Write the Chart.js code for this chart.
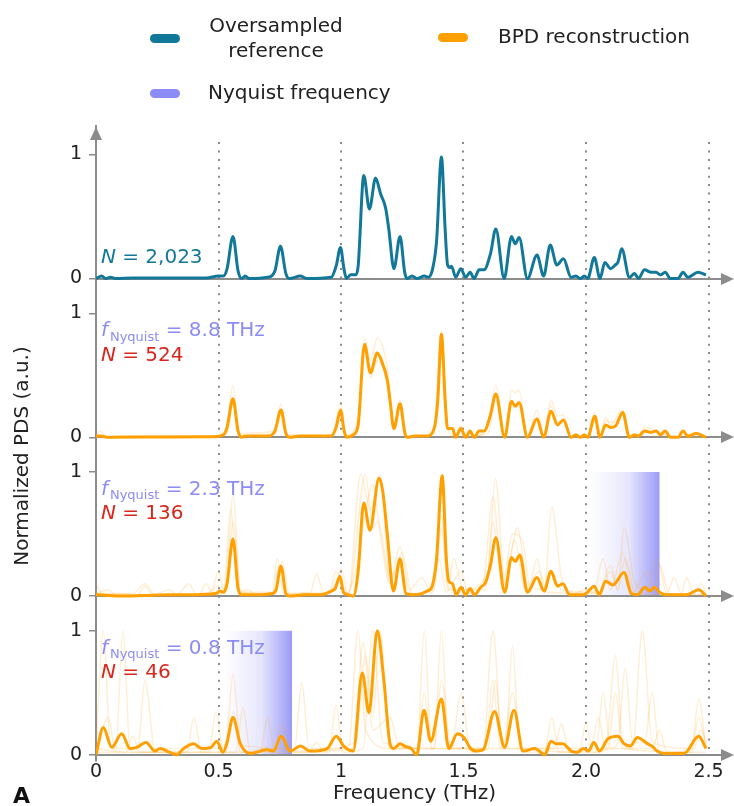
<!DOCTYPE html>
<html>
<head>
<meta charset="utf-8">
<script src="https://cdn.jsdelivr.net/npm/chart.js@4.4.1/dist/chart.umd.min.js"></script>
<style>
  html, body { margin: 0; padding: 0; background: #fff; }
  #wrap { position: relative; width: 734px; height: 806px; font-family: 'DejaVu Sans', sans-serif; color: #222; }
  #wrap canvas { position: absolute; left: 0; top: 0; }
  .sw { position: absolute; width: 30px; height: 9px; border-radius: 5px; }
  .lg { position: absolute; font-size: 20px; line-height: 25px; white-space: nowrap; }
</style>
</head>
<body>
<div id="wrap">
  <canvas id="pds" width="734" height="806"></canvas>
  <div class="sw" style="left:150px; top:34px; background:#12789a;"></div>
  <div class="lg" style="left:206px; top:13px; text-align:center; width:140px;">Oversampled<br>reference</div>
  <div class="sw" style="left:438px; top:33px; background:#ffa000;"></div>
  <div class="lg" style="left:498px; top:24px;">BPD reconstruction</div>
  <div class="sw" style="left:150px; top:89px; background:#8c8cf8;"></div>
  <div class="lg" style="left:208px; top:80px;">Nyquist frequency</div>
</div>
<script>
// ─── Axis ticks ───
const freqTicks  = [0, 0.5, 1, 1.5, 2, 2.5];
const freqLabels = ['0', '0.5', '1', '1.5', '2.0', '2.5'];
const yTicks = [0, 1];
const guideTicks = [0.5, 1, 1.5, 2, 2.5];

// ─── Panel annotations (top to bottom) ───
const sampleN    = ['2,023', '524', '136', '46'];
const nyquistTHz = [null, 8.8, 2.3, 0.8];

// ─── Spectra: [THz, normalized PDS] ───
const refPDS = [[0,0],[0.023,0.02],[0.04,0],[0.06,0.01],[0.08,0],[0.15,0.005],[0.3,0.005],[0.45,0.005],[0.5,0.02],[0.52,0.02],[0.535,0.08],[0.559,0.34],[0.58,0.06],[0.595,0],[0.609,0.02],[0.625,0],[0.7,0.01],[0.73,0.06],[0.753,0.26],[0.775,0.04],[0.79,0],[0.834,0.02],[0.86,0],[0.96,0.01],[0.98,0.1],[0.998,0.25],[1.012,0.08],[1.022,0],[1.04,0.03],[1.06,0.03],[1.07,0.1],[1.093,0.83],[1.116,0.56],[1.141,0.81],[1.162,0.68],[1.182,0.57],[1.195,0.4],[1.216,0.08],[1.241,0.34],[1.26,0.05],[1.27,0],[1.29,0.02],[1.31,0],[1.34,0.02],[1.355,0.01],[1.373,0.07],[1.39,0.3],[1.41,0.98],[1.425,0.4],[1.435,0.11],[1.445,0.09],[1.451,0.1],[1.468,0.01],[1.489,0.08],[1.509,0.01],[1.527,0.05],[1.543,0],[1.564,0.07],[1.584,0.07],[1.61,0.2],[1.632,0.4],[1.666,0],[1.696,0.34],[1.711,0.28],[1.727,0.33],[1.761,0],[1.8,0.19],[1.827,0.02],[1.854,0.27],[1.881,0.11],[1.908,0.16],[1.939,0.01],[1.959,0.02],[1.977,0],[1.993,0.02],[2.007,0],[2.034,0.17],[2.057,0],[2.077,0.13],[2.1,0.08],[2.12,0.11],[2.13,0.13],[2.146,0.24],[2.177,0.01],[2.198,0.04],[2.214,0],[2.239,0.07],[2.266,0.05],[2.286,0.05],[2.304,0.03],[2.323,0.05],[2.345,0],[2.375,0],[2.396,0.05],[2.416,0.01],[2.457,0.05],[2.49,0.03]];

const bpd524 = [[0,0.01],[0.02,0.01],[0.05,0],[0.3,0.003],[0.48,0.005],[0.52,0.02],[0.535,0.08],[0.559,0.31],[0.58,0.05],[0.595,0],[0.61,0.01],[0.7,0.01],[0.73,0.05],[0.755,0.22],[0.775,0.03],[0.79,0],[0.83,0.01],[0.96,0.01],[0.98,0.08],[0.998,0.22],[1.012,0.06],[1.022,0],[1.05,0.02],[1.07,0.1],[1.096,0.75],[1.12,0.52],[1.148,0.68],[1.165,0.62],[1.189,0.46],[1.2,0.3],[1.216,0.07],[1.241,0.27],[1.26,0.04],[1.27,0],[1.3,0.01],[1.35,0.01],[1.38,0.07],[1.395,0.3],[1.41,0.83],[1.425,0.3],[1.435,0.07],[1.455,0.07],[1.468,0],[1.489,0.07],[1.509,0],[1.527,0.05],[1.543,0],[1.564,0.05],[1.584,0.05],[1.61,0.18],[1.632,0.35],[1.668,0],[1.696,0.29],[1.711,0.25],[1.727,0.28],[1.761,0],[1.8,0.15],[1.827,0],[1.857,0.21],[1.884,0.1],[1.908,0.14],[1.939,0],[1.959,0.02],[1.977,0],[1.993,0.02],[2.007,0],[2.036,0.17],[2.057,0],[2.08,0.1],[2.1,0.08],[2.12,0.09],[2.15,0.2],[2.177,0],[2.198,0.02],[2.214,0.01],[2.239,0.05],[2.266,0.04],[2.286,0.05],[2.304,0.02],[2.323,0.05],[2.345,0],[2.375,0],[2.396,0.05],[2.416,0.01],[2.45,0.03],[2.49,0]];

const bpd136 = [[0,0.01],[0.05,0.005],[0.1,0],[0.2,0.005],[0.3,0.01],[0.4,0.01],[0.45,0.015],[0.49,0.02],[0.505,0.04],[0.52,0.03],[0.535,0.1],[0.559,0.46],[0.58,0.06],[0.595,0.01],[0.65,0.01],[0.72,0.02],[0.735,0.05],[0.755,0.24],[0.775,0.02],[0.79,0],[0.85,0.01],[0.92,0.01],[0.96,0.04],[0.976,0.06],[0.996,0.16],[1.01,0.03],[1.03,0.01],[1.05,0],[1.07,0.2],[1.093,0.75],[1.118,0.53],[1.155,0.95],[1.17,0.85],[1.189,0.5],[1.214,0.04],[1.241,0.3],[1.265,0.02],[1.3,0.01],[1.33,0.02],[1.35,0.04],[1.37,0.07],[1.39,0.3],[1.413,0.97],[1.43,0.3],[1.44,0.12],[1.455,0.1],[1.47,0.01],[1.49,0.07],[1.508,0.01],[1.527,0.06],[1.545,0.01],[1.57,0.07],[1.59,0.11],[1.61,0.25],[1.632,0.47],[1.668,0.03],[1.696,0.31],[1.711,0.28],[1.73,0.33],[1.761,0.03],[1.8,0.15],[1.829,0.04],[1.857,0.2],[1.883,0.08],[1.906,0.1],[1.933,0.01],[1.97,0.01],[1.99,0.01],[2.034,0.08],[2.054,0.01],[2.08,0.12],[2.11,0.09],[2.155,0.19],[2.185,0.02],[2.21,0.01],[2.24,0.07],[2.26,0.04],[2.28,0.07],[2.3,0.03],[2.33,0.01],[2.38,0.01],[2.41,0.01],[2.46,0.05],[2.49,0]];

const bpd46 = [[0,0],[0.03,0.22],[0.064,0.06],[0.105,0.17],[0.139,0.05],[0.166,0.06],[0.204,0.1],[0.241,0.03],[0.261,0.05],[0.302,0.02],[0.33,0],[0.357,0.05],[0.398,0.09],[0.432,0.05],[0.47,0.06],[0.493,0.11],[0.518,0.02],[0.535,0.1],[0.559,0.3],[0.589,0.09],[0.63,0.01],[0.698,0.04],[0.725,0.03],[0.755,0.15],[0.793,0.03],[0.834,0.07],[0.875,0.03],[0.943,0.05],[0.981,0.15],[1.011,0.07],[1.05,0.03],[1.087,0.66],[1.114,0.34],[1.148,1],[1.175,0.6],[1.2,0.09],[1.215,0.05],[1.241,0.09],[1.26,0.07],[1.287,0.05],[1.309,0],[1.339,0.36],[1.366,0.11],[1.41,0.45],[1.44,0.05],[1.475,0.17],[1.502,0.14],[1.529,0.05],[1.555,0.03],[1.58,0.04],[1.627,0.35],[1.668,0.06],[1.706,0.36],[1.743,0.03],[1.791,0.05],[1.832,0],[1.857,0.11],[1.878,0.09],[1.905,0.09],[1.94,0.03],[1.965,0.02],[1.989,0.05],[2.01,0.03],[2.032,0.1],[2.055,0.03],[2.09,0.13],[2.13,0.15],[2.155,0.09],[2.18,0.07],[2.21,0.14],[2.25,0.09],[2.27,0.07],[2.29,0.03],[2.32,0.01],[2.4,0.01],[2.46,0.15],[2.49,0.05]];

// individual (faint) reconstructions
const ghost524a = [[0,0.03],[0.02,0.05],[0.04,0],[0.1,0.01],[0.5,0.01],[0.535,0.1],[0.559,0.42],[0.585,0.03],[0.73,0.05],[0.755,0.27],[0.78,0.02],[0.95,0.01],[0.975,0.08],[0.998,0.28],[1.02,0.02],[1.07,0.15],[1.096,0.8],[1.12,0.62],[1.148,0.8],[1.19,0.55],[1.216,0.09],[1.241,0.3],[1.27,0],[1.36,0.01],[1.38,0.07],[1.41,0.86],[1.435,0.08],[1.465,0.01],[1.489,0.1],[1.509,0],[1.58,0.03],[1.61,0.2],[1.632,0.42],[1.668,0],[1.696,0.38],[1.711,0.36],[1.727,0.38],[1.761,0],[1.8,0.22],[1.827,0],[1.857,0.3],[1.884,0.17],[1.908,0.18],[1.939,0],[2.01,0.01],[2.036,0.2],[2.057,0],[2.08,0.16],[2.1,0.1],[2.15,0.22],[2.177,0],[2.215,0.01],[2.239,0.08],[2.286,0.06],[2.345,0],[2.49,0]];
const ghost524b = [[0,0],[0.5,0.01],[0.535,0.03],[0.559,0.27],[0.59,0],[0.73,0.02],[0.755,0.18],[0.785,0],[0.97,0.02],[0.998,0.15],[1.025,0],[1.065,0.05],[1.096,0.7],[1.12,0.48],[1.148,0.62],[1.19,0.42],[1.216,0.05],[1.241,0.25],[1.27,0],[1.38,0.03],[1.41,0.8],[1.44,0],[1.6,0.03],[1.632,0.3],[1.668,0],[1.696,0.26],[1.727,0.25],[1.761,0],[1.8,0.12],[1.827,0],[1.857,0.25],[1.884,0.12],[1.908,0.13],[1.939,0],[2.01,0.01],[2.036,0.13],[2.057,0],[2.08,0.13],[2.12,0.12],[2.15,0.18],[2.177,0],[2.225,0.01],[2.25,0.05],[2.28,0.01],[2.49,0]];

const ghost136a = [[0,0.1],[0.03,0.01],[0.1,0.02],[0.17,0.01],[0.2,0.08],[0.23,0.01],[0.3,0.05],[0.33,0.01],[0.38,0.1],[0.41,0.01],[0.47,0.02],[0.5,0.2],[0.525,0.02],[0.56,0.82],[0.59,0.04],[0.62,0.05],[0.65,0.01],[0.72,0.03],[0.74,0.3],[0.765,0.02],[0.875,0.03],[0.9,0.18],[0.93,0.02],[0.975,0.05],[1,0.22],[1.03,0.01],[1.08,0.98],[1.12,0.7],[1.16,0.98],[1.2,0.1],[1.24,0.4],[1.28,0.05],[1.33,0.15],[1.37,0.02],[1.41,0.65],[1.435,0.05],[1.46,0.3],[1.5,0.05],[1.6,0.2],[1.63,0.95],[1.67,0.1],[1.72,0.55],[1.76,0.1],[1.83,0.05],[1.86,0.72],[1.9,0.15],[1.95,0.02],[2,0.05],[2.05,0.02],[2.1,0.25],[2.13,0.05],[2.155,0.55],[2.2,0.1],[2.25,0.05],[2.29,0.3],[2.33,0.02],[2.36,0.15],[2.39,0.02],[2.41,0.15],[2.44,0.02],[2.47,0.1],[2.49,0.02]];
const ghost136b = [[0,0.02],[0.15,0.02],[0.2,0.1],[0.24,0.01],[0.45,0.02],[0.5,0.08],[0.53,0.05],[0.56,0.6],[0.59,0.03],[0.72,0.02],[0.75,0.25],[0.78,0.02],[0.95,0.03],[0.99,0.12],[1.03,0.02],[1.1,0.98],[1.13,0.55],[1.15,0.6],[1.2,0.15],[1.24,0.25],[1.28,0.02],[1.37,0.05],[1.4,0.3],[1.43,0.03],[1.49,0.2],[1.52,0.02],[1.58,0.1],[1.62,0.8],[1.66,0.1],[1.7,0.5],[1.74,0.45],[1.77,0.1],[1.8,0.3],[1.83,0.03],[1.86,0.2],[1.9,0.05],[2.03,0.03],[2.07,0.3],[2.1,0.05],[2.15,0.35],[2.19,0.03],[2.25,0.2],[2.28,0.05],[2.3,0.25],[2.34,0.02],[2.49,0.01]];
const ghost136c = [[0,0.02],[0.05,0.05],[0.08,0.01],[0.42,0.01],[0.45,0.1],[0.48,0.01],[0.52,0.03],[0.55,0.7],[0.58,0.03],[0.73,0.03],[0.76,0.28],[0.79,0.01],[0.95,0.02],[0.98,0.2],[1.02,0.02],[1.06,0.2],[1.09,0.55],[1.13,0.9],[1.16,0.5],[1.2,0.1],[1.25,0.35],[1.29,0.02],[1.38,0.05],[1.41,0.55],[1.44,0.05],[1.59,0.05],[1.62,0.6],[1.66,0.05],[1.71,0.45],[1.75,0.05],[1.81,0.2],[1.84,0.03],[2.05,0.02],[2.1,0.2],[2.13,0.05],[2.16,0.3],[2.2,0.02],[2.49,0.01]];

const ghost46a = [[0,0.05],[0.03,1],[0.06,0.05],[0.17,0.05],[0.2,0.6],[0.24,0.05],[0.5,0.05],[0.53,0.1],[0.56,0.65],[0.59,0.08],[0.81,0.05],[0.84,0.58],[0.87,0.05],[1.03,0.05],[1.07,1],[1.1,0.2],[1.2,0.05],[1.31,0.05],[1.34,1],[1.37,0.05],[1.58,0.05],[1.62,1],[1.66,0.05],[2.08,0.05],[2.12,0.8],[2.15,0.1],[2.19,0.05],[2.23,1],[2.27,0.1],[2.43,0.05],[2.46,0.45],[2.49,0.05]];
const ghost46b = [[0,0.02],[0.08,0.02],[0.11,1],[0.14,0.02],[0.37,0.02],[0.4,0.3],[0.43,0.02],[0.57,0.02],[0.6,0.38],[0.63,0.02],[0.95,0.02],[0.98,0.4],[1.01,0.02],[1.09,0.05],[1.13,1],[1.17,0.1],[1.38,0.05],[1.41,1],[1.44,0.05],[1.67,0.05],[1.7,0.88],[1.73,0.05],[2.04,0.02],[2.07,0.5],[2.1,0.05],[2.13,0.1],[2.16,0.7],[2.19,0.1],[2.24,0.1],[2.27,0.5],[2.3,0.02],[2.49,0.02]];
const ghost46c = [[0,0.02],[0.05,0.3],[0.08,0.02],[0.46,0.02],[0.49,0.35],[0.52,0.02],[0.67,0.02],[0.7,0.3],[0.73,0.03],[0.76,0.25],[0.79,0.02],[1.06,0.1],[1.1,0.8],[1.13,0.3],[1.16,1],[1.2,0.05],[1.38,0.05],[1.41,0.6],[1.45,0.05],[1.49,0.5],[1.53,0.02],[1.6,0.05],[1.63,0.6],[1.66,0.05],[1.7,0.5],[1.74,0.02],[1.83,0.02],[1.86,0.3],[1.89,0.02],[1.97,0.02],[2,0.25],[2.03,0.02],[2.09,0.05],[2.12,0.5],[2.15,0.05],[2.43,0.02],[2.46,0.3],[2.49,0.05]];
const ghost46d = [[0,0.05],[0.12,0.02],[0.15,0.15],[0.18,0.02],[0.53,0.02],[0.56,0.35],[0.59,0.02],[0.7,0.05],[0.87,0.03],[0.9,0.1],[0.93,0.03],[1.05,0.05],[1.09,0.9],[1.13,0.2],[1.2,0.3],[1.24,0.05],[1.31,0.05],[1.34,0.5],[1.37,0.05],[1.59,0.05],[1.62,0.6],[1.65,0.05],[1.87,0.05],[1.9,0.25],[1.93,0.02],[2.02,0.05],[2.05,0.3],[2.08,0.05],[2.27,0.05],[2.3,0.2],[2.33,0.02],[2.44,0.05],[2.47,0.2],[2.49,0.1]];

// ─── Colours ───
const C = {
    ref:     '#12789a',
    bpd:     '#ffa000',
    ghost:   'rgba(255, 170, 40, 0.2)',
    nyquist: '#8c8cf8',
    count:   '#d9261c',
    axis:    '#8c8c8c',
    text:    '#222',
};
const FONT = "'DejaVu Sans', sans-serif";
Chart.defaults.font.family = FONT;

const panelIds = ['y0', 'y1', 'y2', 'y3'];

function mainLine(data, color, yAxisID) {
    return { data, yAxisID, borderColor: color, borderWidth: 3, pointRadius: 0,
             cubicInterpolationMode: 'monotone', order: 0 };
}
function ghostLine(data, yAxisID) {
    return { data, yAxisID, borderColor: C.ghost, borderWidth: 1.5, pointRadius: 0,
             cubicInterpolationMode: 'monotone', order: 1 };
}

function panelScale(weight) {
    return {
        type: 'linear', position: 'left', stack: 'panels', weight,
        min: -0.05, max: 1.23,
        afterBuildTicks: s => { s.ticks = yTicks.map(v => ({ value: v })); },
        afterFit: s => { s.width = 96; },
        ticks: { font: { size: 19 }, color: C.text, padding: 7 },
        grid: { drawOnChartArea: false, drawTicks: true, tickLength: 7, color: C.axis, lineWidth: 1.5 },
        border: { color: C.axis, width: 2 }
    };
}

function arrow(ctx, x, y, dx, dy) {
    // triangle head pointing along (dx, dy)
    const len = 13, half = 6;
    ctx.beginPath();
    ctx.moveTo(x, y);
    ctx.lineTo(x - dx * len - dy * half, y - dy * len - dx * half);
    ctx.lineTo(x - dx * len + dy * half, y - dy * len + dx * half);
    ctx.closePath();
    ctx.fill();
}

// ─── Decorations: guides, shaded Nyquist bands, axis arrows, labels ───
const decor = {
    id: 'decor',
    beforeDatasetsDraw(chart) {
        const { ctx, chartArea, scales } = chart;
        const xs = scales.x;
        ctx.save();
        // Nyquist bands
        panelIds.forEach((id, i) => {
            const f = nyquistTHz[i];
            if (f === null || f > 2.5) return;
            const ys = scales[id];
            const x1 = xs.getPixelForValue(f - 0.28), x2 = xs.getPixelForValue(f);
            const g = ctx.createLinearGradient(x1, 0, x2, 0);
            g.addColorStop(0, 'rgba(130,130,245,0)');
            g.addColorStop(0.55, 'rgba(130,130,245,0.2)');
            g.addColorStop(1, 'rgba(130,130,245,0.8)');
            ctx.fillStyle = g;
            const t = ys.getPixelForValue(1), b = ys.getPixelForValue(0);
            ctx.fillRect(x1, t, x2 - x1, b - t);
        });
        // dotted frequency guides
        ctx.strokeStyle = '#8a8a8a';
        ctx.lineWidth = 2;
        ctx.setLineDash([2, 6.4]);
        const top = scales.y0.getPixelForValue(1.1), bot = scales.y3.getPixelForValue(0);
        guideTicks.forEach(v => {
            const px = Math.round(xs.getPixelForValue(v));
            ctx.beginPath(); ctx.moveTo(px, top); ctx.lineTo(px, bot); ctx.stroke();
        });
        ctx.setLineDash([]);
        // zero lines with arrow heads
        ctx.strokeStyle = C.axis; ctx.fillStyle = C.axis; ctx.lineWidth = 2;
        panelIds.forEach(id => {
            const y = Math.round(scales[id].getPixelForValue(0));
            ctx.beginPath(); ctx.moveTo(chartArea.left, y); ctx.lineTo(chartArea.right - 10, y); ctx.stroke();
            arrow(ctx, chartArea.right + 1, y, 1, 0);
        });
        ctx.restore();
    },
    afterDraw(chart) {
        const { ctx, chartArea, scales } = chart;
        const xs = scales.x;
        ctx.save();
        ctx.fillStyle = C.axis;
        arrow(ctx, chartArea.left, chartArea.top + 1, 0, -1);

        const x0 = xs.getPixelForValue(0.02);
        ctx.textBaseline = 'middle';
        ctx.textAlign = 'left';
        panelIds.forEach((id, i) => {
            const ys = scales[id];
            const f = nyquistTHz[i];
            const nY = ys.getPixelForValue(f === null ? 0.17 : 0.66);
            // N = ...
            ctx.fillStyle = f === null ? C.ref : C.count;
            ctx.font = 'italic 20px ' + FONT;
            ctx.fillText('N', x0, nY);
            let w = ctx.measureText('N').width;
            ctx.font = '20px ' + FONT;
            ctx.fillText(' = ' + sampleN[i], x0 + w, nY);
            if (f === null) return;
            // f_Nyquist = ...
            const fY = ys.getPixelForValue(0.855);
            ctx.fillStyle = C.nyquist;
            ctx.font = 'italic 20px ' + FONT;
            ctx.fillText('f', x0, fY);
            let cx = x0 + ctx.measureText('f').width + 2;
            ctx.font = '13px ' + FONT;
            ctx.fillText('Nyquist', cx, fY + 6);
            cx += ctx.measureText('Nyquist').width;
            ctx.font = '20px ' + FONT;
            ctx.fillText(' = ' + f + ' THz', cx, fY);
        });

        // y title spanning all panels
        ctx.fillStyle = C.text;
        ctx.font = '20px ' + FONT;
        ctx.textAlign = 'center';
        ctx.translate(23, 456);
        ctx.rotate(-Math.PI / 2);
        ctx.fillText('Normalized PDS (a.u.)', 0, 0);
        ctx.restore();

        ctx.save();
        ctx.fillStyle = '#111';
        ctx.font = 'bold 22px ' + FONT;
        ctx.textBaseline = 'alphabetic';
        ctx.fillText('A', 13, 803);
        ctx.restore();
    }
};

new Chart(document.getElementById('pds'), {
    type: 'line',
    data: {
        datasets: [
            mainLine(refPDS, C.ref, 'y0'),
            mainLine(bpd524, C.bpd, 'y1'),
            mainLine(bpd136, C.bpd, 'y2'),
            mainLine(bpd46, C.bpd, 'y3'),
            ghostLine(ghost524a, 'y1'), ghostLine(ghost524b, 'y1'),
            ghostLine(ghost136a, 'y2'), ghostLine(ghost136b, 'y2'), ghostLine(ghost136c, 'y2'),
            ghostLine(ghost46a, 'y3'), ghostLine(ghost46b, 'y3'), ghostLine(ghost46c, 'y3'), ghostLine(ghost46d, 'y3'),
        ]
    },
    options: {
        responsive: false,
        animation: false,
        layout: { padding: { top: 126, left: 0, right: 1, bottom: 0 } },
        scales: {
            x: {
                type: 'linear', min: 0, max: 2.6,
                afterBuildTicks: s => { s.ticks = freqTicks.map(v => ({ value: v })); },
                afterFit: s => { s.height = 45; },
                ticks: {
                    font: { size: 19 }, color: C.text, padding: 0, maxRotation: 0,
                    callback: (v, i) => freqLabels[i]
                },
                grid: { display: false, drawTicks: false },
                border: { display: false },
                title: { display: true, text: 'Frequency (THz)', font: { size: 20 }, color: C.text,
                         padding: { top: 0, bottom: 0 } }
            },
            y0: panelScale(4),
            y1: panelScale(3),
            y2: panelScale(2),
            y3: panelScale(1),
        },
        plugins: { legend: { display: false }, tooltip: { enabled: false } }
    },
    plugins: [decor]
});
</script>
</body>
</html>
